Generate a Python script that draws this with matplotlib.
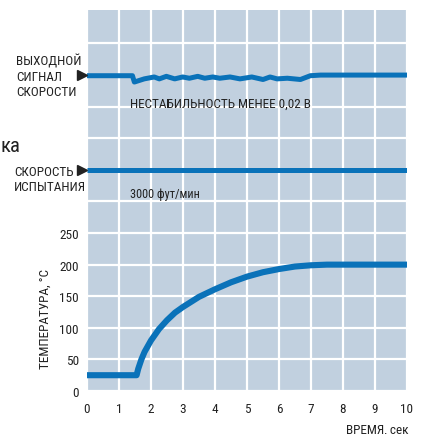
import matplotlib
matplotlib.use("Agg")
import matplotlib.pyplot as plt

# ---- data ----
temp_x = [0, 1.55, 1.6, 1.7, 1.8, 2.0, 2.25, 2.5, 2.75, 3.0, 3.5, 4.0, 4.5, 5.0, 5.5, 6.0, 6.5, 7.0, 7.5, 8, 9, 10]
temp_y = [25, 25, 35, 50, 62, 80, 98, 112, 124, 133, 149, 161, 172, 181, 188, 193, 197, 199, 200, 200, 200, 200]

sig_x = [0, 1.42, 1.48, 1.79, 2.1, 2.26, 2.48, 2.74, 2.99, 3.2, 3.46, 3.68, 3.93, 4.15, 4.47, 4.78, 5.15, 5.5,
         5.72, 5.94, 6.26, 6.67, 6.98, 7.3, 10]
sig_y = [499, 499, 489, 494, 497, 494, 498, 494, 497, 495, 498, 495, 497, 495, 497, 494, 497, 493,
         497, 494, 495, 493, 499, 500, 500]

test_x = [0, 10]
test_y = [350, 350]

x_ticks = list(range(0, 11))
y_ticks = [0, 50, 100, 150, 200, 250]
extra_grid = [300, 400, 450, 550]

plt.rcParams['font.family'] = ['Roboto Condensed', 'PT Sans Narrow', 'Liberation Sans', 'DejaVu Sans']

fig = plt.figure(figsize=(4.22, 4.35), dpi=100)
ax = fig.add_axes([87/422, 43/435, 320/422, 381/435])
bg = '#c1d0df'
blue = '#0a72b9'
tc = '#222222'
ax.set_facecolor(bg)
ax.set_xlim(0, 10)
ax.set_ylim(0, 603)
for s in ax.spines.values():
    s.set_visible(False)

ax.set_xticks(x_ticks)
ax.set_yticks(y_ticks)
ax.set_yticks(extra_grid, minor=True)
ax.tick_params(which='both', length=0, labelsize=9.5, colors=tc)
ax.tick_params(axis='x', pad=8)
ax.tick_params(axis='y', pad=6)
ax.grid(True, which='both', color='white', linewidth=1.6)
ax.set_axisbelow(True)

ax.plot(temp_x, temp_y, color=blue, lw=4.4, solid_capstyle='butt', solid_joinstyle='round')
ax.plot(sig_x, sig_y, color=blue, lw=3.6, solid_capstyle='butt')
ax.plot(test_x, test_y, color=blue, lw=3.6, solid_capstyle='butt')

# arrow markers
ax.plot([-0.16], [500], marker='>', color=tc, markersize=7, clip_on=False)
ax.plot([-0.16], [350], marker='>', color=tc, markersize=7, clip_on=False)

fig.text(16/422, 1 - 77/435, "ВЫХОДНОЙ\nСИГНАЛ\nСКОРОСТИ", ha='left', va='center', fontsize=9.5,
         color=tc, linespacing=1.2)
fig.text(14/422, 1 - 180/435, "СКОРОСТЬ\nИСПЫТАНИЯ", ha='left', va='center', fontsize=9.5,
         color=tc, linespacing=1.2)
fig.text(0.5/422, 1 - 146/435, "ка", ha='left', va='center', fontsize=15, color=tc)

ax.text(1.35, 455, "НЕСТАБИЛЬНОСТЬ МЕНЕЕ 0,02 В", ha='left', va='center', fontsize=9.5, color=tc)
ax.text(1.35, 312, "3000 фут/мин", ha='left', va='center', fontsize=8.8, color=tc)

ax.text(-1.3, 116, "ТЕМПЕРАТУРА, °C", rotation=90, ha='center', va='center', fontsize=9.5, color=tc)
fig.text(409/422, 1 - 430/435, "ВРЕМЯ, сек", ha='right', va='center', fontsize=9.5, color=tc)

fig.savefig("out.png", dpi=100)
